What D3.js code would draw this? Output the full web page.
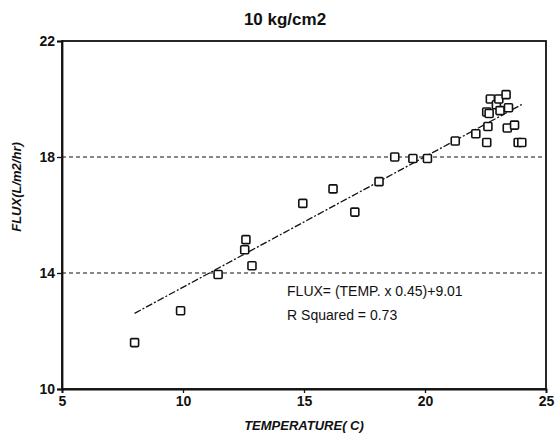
<!DOCTYPE html>
<html>
<head>
<meta charset="utf-8">
<script src="https://cdn.jsdelivr.net/npm/d3@7"></script>
<style>
  body { margin: 0; background: #fff; }
  svg { display: block; }
  .tick text { font-family: "Liberation Sans", Arial, sans-serif; font-size: 14px; font-weight: bold; fill: #111; }
</style>
</head>
<body>
<div id="chart"></div>
<script>
// flux vs temperature at 10 kg/cm2
const temps = [8.0, 9.9, 11.45, 12.55, 12.6, 12.85, 14.95, 16.2, 17.1, 18.1, 18.75, 19.5, 20.1,
  21.25, 22.1, 22.55, 22.6, 22.55, 22.65, 22.7, 22.95, 23.05, 23.1, 23.35, 23.45, 23.4, 23.7, 23.85, 24.0];
const fluxes = [11.6, 12.7, 13.95, 14.8, 15.15, 14.25, 16.4, 16.9, 16.1, 17.15, 18.0, 17.95, 17.95,
  18.55, 18.8, 18.5, 19.05, 19.55, 19.5, 20.0, 19.8, 20.0, 19.6, 20.15, 19.7, 19.0, 19.1, 18.5, 18.5];
const xTicks = [5, 10, 15, 20, 25];
const yTicks = [10, 14, 18, 22];
const refLines = [14, 18];
const slope = 0.45, intercept = 9.01;
const fitLabels = ["FLUX= (TEMP. x 0.45)+9.01", "R Squared = 0.73"];

const width = 556, height = 444;
const margin = { top: 41, right: 10, bottom: 55, left: 62 };

const svg = d3.select("#chart").append("svg")
  .attr("width", width)
  .attr("height", height);

const x = d3.scaleLinear().domain([5, 25]).range([margin.left, width - margin.right]);
const y = d3.scaleLinear().domain([10, 22]).range([height - margin.bottom, margin.top]);

// dashed reference lines
svg.selectAll(".ref")
  .data(refLines)
  .enter()
  .append("line")
  .attr("class", "ref")
  .attr("x1", x(5))
  .attr("x2", x(25))
  .attr("y1", d => y(d))
  .attr("y2", d => y(d))
  .attr("stroke", "#111")
  .attr("stroke-width", 1.2)
  .attr("stroke-dasharray", "4,3");

// frame
svg.append("rect")
  .attr("x", x(5))
  .attr("y", y(22))
  .attr("width", x(25) - x(5))
  .attr("height", y(10) - y(22))
  .attr("fill", "none")
  .attr("stroke", "#111")
  .attr("stroke-width", 1.8);

const xAxis = svg.append("g")
  .attr("transform", "translate(0," + y(10) + ")")
  .call(d3.axisBottom(x).tickValues(xTicks).tickSize(4).tickPadding(3));
const yAxis = svg.append("g")
  .attr("transform", "translate(" + x(5) + ",0)")
  .call(d3.axisLeft(y).tickValues(yTicks).tickSize(5).tickPadding(2));
[xAxis, yAxis].forEach(g => {
  g.select(".domain").attr("stroke", "#111").attr("stroke-width", 1.8);
  g.selectAll(".tick line").attr("stroke", "#111").attr("stroke-width", 1.3);
});

// regression line
const xr = d3.extent(temps);
svg.append("line")
  .attr("x1", x(xr[0]))
  .attr("y1", y(slope * xr[0] + intercept))
  .attr("x2", x(xr[1]))
  .attr("y2", y(slope * xr[1] + intercept))
  .attr("stroke", "#111")
  .attr("stroke-width", 1.3)
  .attr("stroke-dasharray", "7,2,2,2");

// points
const s = 8;
svg.selectAll(".pt")
  .data(temps)
  .enter()
  .append("rect")
  .attr("class", "pt")
  .attr("x", d => x(d) - s / 2)
  .attr("y", (d, i) => y(fluxes[i]) - s / 2)
  .attr("width", s)
  .attr("height", s)
  .attr("rx", 1)
  .attr("fill", "#fff")
  .attr("stroke", "#111")
  .attr("stroke-width", 1.6);

// annotation
svg.selectAll(".fit")
  .data(fitLabels)
  .enter()
  .append("text")
  .attr("class", "fit")
  .attr("x", x(14.3))
  .attr("y", (d, i) => y(13.2) + i * 24)
  .attr("font-family", "Liberation Sans, Arial, sans-serif")
  .attr("font-size", 14)
  .attr("fill", "#111")
  .text(d => d);

// title and axis labels
svg.append("text")
  .attr("x", 285)
  .attr("y", 25)
  .attr("text-anchor", "middle")
  .attr("font-family", "Liberation Sans, Arial, sans-serif")
  .attr("font-size", 17)
  .attr("font-weight", "bold")
  .attr("fill", "#111")
  .text("10 kg/cm2");

svg.append("text")
  .attr("x", x(15))
  .attr("y", 430)
  .attr("text-anchor", "middle")
  .attr("font-family", "Liberation Sans, Arial, sans-serif")
  .attr("font-size", 13)
  .attr("font-weight", "bold")
  .attr("font-style", "italic")
  .attr("fill", "#111")
  .text("TEMPERATURE( C)");

svg.append("text")
  .attr("transform", "translate(21,187) rotate(-90)")
  .attr("text-anchor", "middle")
  .attr("font-family", "Liberation Sans, Arial, sans-serif")
  .attr("font-size", 13)
  .attr("font-weight", "bold")
  .attr("font-style", "italic")
  .attr("fill", "#111")
  .text("FLUX(L/m2/hr)");
</script>
</body>
</html>
